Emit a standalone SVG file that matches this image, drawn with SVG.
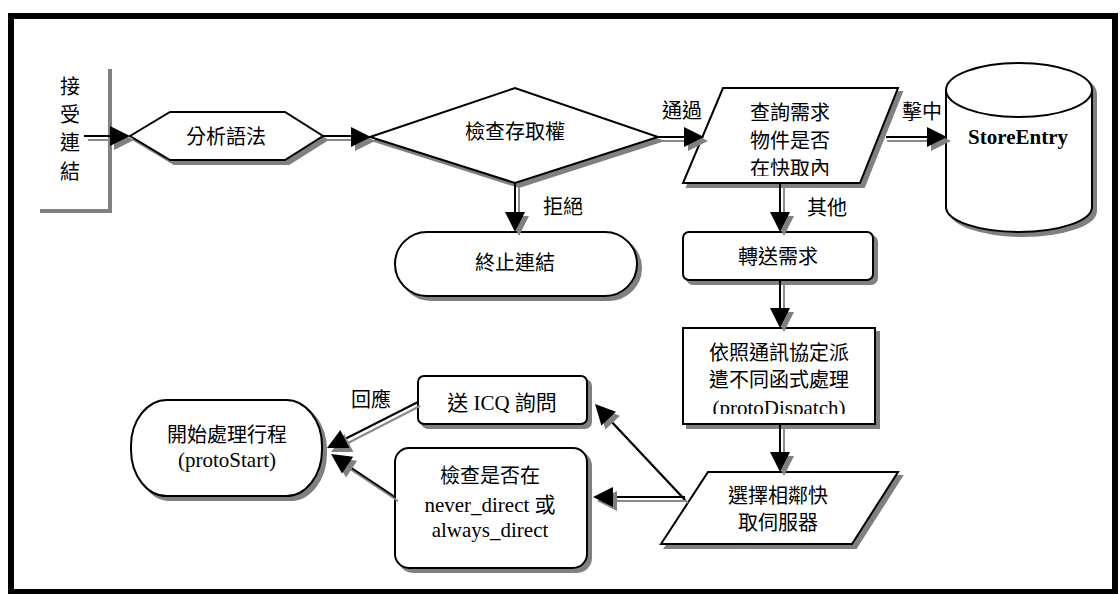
<svg xmlns="http://www.w3.org/2000/svg" xmlns:xlink="http://www.w3.org/1999/xlink" width="1120" height="594" viewBox="0 0 1120 594">
<style>
.shape{fill:#fff;stroke:#000;stroke-width:2}
.shadow{fill:#808080;stroke:#808080;stroke-width:2}
.cj{font-family:"Noto Sans CJK TC","Noto Sans CJK SC",sans-serif;font-size:20px;fill:#000;text-anchor:middle}
.sf{font-family:"Liberation Serif","Noto Sans CJK TC",serif;font-size:21px;fill:#000;text-anchor:middle}
.ln{fill:none;stroke:#000;stroke-width:2}
.lg{fill:none;stroke:#8a8a8a;stroke-width:2}
.ah{fill:#000}
.ahs{fill:#808080}
</style>
<defs>
<path id="ah" d="M0,0 L-20,-10 L-20,10 Z"/>
<clipPath id="clipP1"><rect x="680" y="85" width="230" height="91"/></clipPath>
<clipPath id="clipD"><rect x="680" y="325" width="200" height="89"/></clipPath>
</defs>
<rect x="0" y="0" width="1120" height="594" fill="#fff"/>
<rect x="11" y="16" width="1104" height="576" fill="none" stroke="#000" stroke-width="6"/>

<g id="accept">
<path d="M110,69 L110,211 L40,211" fill="none" stroke="#808080" stroke-width="4"/>
<text class="cj" x="70" y="94">接</text>
<text class="cj" x="70" y="122">受</text>
<text class="cj" x="70" y="150">連</text>
<text class="cj" x="70" y="179">結</text>
</g>

<g id="parse">
<polygon class="shadow" points="134,140 174,116 289,116 327,140 289,164 174,164"/>
<polygon class="shape" points="130,136 170,112 285,112 323,136 285,160 170,160"/>
<text class="cj" x="226" y="144">分析語法</text>
</g>

<g id="checkAccess">
<polygon class="shadow" points="374,141 519,92 662,141 519,187"/>
<polygon class="shape" points="370,137 515,88 658,137 515,183"/>
<text class="cj" x="515" y="139">檢查存取權</text>
</g>

<g id="terminate">
<rect class="shadow" x="399" y="236" width="242" height="64" rx="32" ry="32"/>
<rect class="shape" x="395" y="232" width="242" height="64" rx="32" ry="32"/>
<text class="cj" x="515" y="270">終止連結</text>
</g>

<g id="lookup">
<polygon class="shadow" points="727,92 902,92 864,187 687,187"/>
<polygon class="shape" points="723,88 898,88 860,183 683,183"/>
<g clip-path="url(#clipP1)">
<text class="cj" x="790" y="120">查詢需求</text>
<text class="cj" x="790" y="148">物件是否</text>
<text class="cj" x="790" y="176">在快取內</text>
</g>
</g>

<g id="storeEntry">
<path class="shadow" d="M950,94 A73,27 0 0 1 1096,94 L1096,211 A73,25 0 0 1 950,211 Z"/>
<path class="shape" d="M946,90 A73,27 0 0 1 1092,90 L1092,207 A73,25 0 0 1 946,207 Z"/>
<path class="shape" fill="none" d="M946,90 A73,27 0 0 0 1092,90"/>
<text class="sf" x="1018" y="144" font-weight="bold">StoreEntry</text>
</g>

<g id="forward">
<rect class="shadow" x="687" y="236" width="190" height="48" rx="6"/>
<rect class="shape" x="683" y="232" width="190" height="48" rx="6"/>
<text class="cj" x="778" y="264">轉送需求</text>
</g>

<g id="dispatch">
<rect class="shadow" x="687" y="332" width="192" height="96"/>
<rect class="shape" x="683" y="328" width="192" height="96"/>
<g clip-path="url(#clipD)">
<text class="cj" x="779" y="360">依照通訊協定派</text>
<text class="cj" x="779" y="387">遣不同函式處理</text>
<text class="sf" x="779" y="415">(protoDispatch)</text>
</g>
</g>

<g id="selectPeer">
<polygon class="shadow" points="712,476 902,476 856,548 665,548"/>
<polygon class="shape" points="708,472 898,472 852,544 661,544"/>
<text class="cj" x="778" y="503">選擇相鄰快</text>
<text class="cj" x="778" y="530">取伺服器</text>
</g>

<g id="icq">
<rect class="shadow" x="422" y="380" width="169" height="48" rx="6"/>
<rect class="shape" x="418" y="376" width="169" height="48" rx="6"/>
<text class="sf" x="502" y="410">送 ICQ 詢問</text>
</g>

<g id="checkDirect">
<rect class="shadow" x="399" y="452" width="192" height="120" rx="14"/>
<rect class="shape" x="395" y="448" width="192" height="120" rx="14"/>
<text class="cj" x="490" y="483">檢查是否在</text>
<text class="sf" x="490" y="512">never_direct 或</text>
<text class="sf" x="490" y="537">always_direct</text>
</g>

<g id="protoStart">
<rect class="shadow" x="135" y="404" width="191" height="96" rx="36" ry="46"/>
<rect class="shape" x="131" y="400" width="191" height="96" rx="36" ry="46"/>
<text class="cj" x="227" y="442">開始處理行程</text>
<text class="sf" x="227" y="467">(protoStart)</text>
</g>

<g id="connectors">
<!-- accept -> parse -->
<line class="lg" x1="88" y1="140" x2="112" y2="140"/>
<line class="ln" x1="84" y1="136" x2="112" y2="136"/>
<use xlink:href="#ah" class="ahs" transform="translate(134,140)"/>
<use xlink:href="#ah" class="ah" transform="translate(130,136)"/>
<!-- parse -> checkAccess -->
<line class="lg" x1="327" y1="140" x2="354" y2="140"/>
<line class="ln" x1="323" y1="136" x2="354" y2="136"/>
<use xlink:href="#ah" class="ahs" transform="translate(375,141)"/>
<use xlink:href="#ah" class="ah" transform="translate(371,137)"/>
<!-- checkAccess -> terminate -->
<line class="lg" x1="519" y1="187" x2="519" y2="214"/>
<line class="ln" x1="515" y1="183" x2="515" y2="214"/>
<use xlink:href="#ah" class="ahs" transform="translate(519,236) rotate(90)"/>
<use xlink:href="#ah" class="ah" transform="translate(515,232) rotate(90)"/>
<text class="cj" x="563" y="214">拒絕</text>
<!-- checkAccess -> lookup -->
<line class="lg" x1="662" y1="141" x2="686" y2="141"/>
<line class="ln" x1="658" y1="137" x2="686" y2="137"/>
<use xlink:href="#ah" class="ahs" transform="translate(708,141)"/>
<use xlink:href="#ah" class="ah" transform="translate(704,137)"/>
<text class="cj" x="682" y="118">通過</text>
<!-- lookup -> storeEntry -->
<line class="lg" x1="887" y1="141" x2="929" y2="141"/>
<line class="ln" x1="886" y1="137" x2="929" y2="137"/>
<use xlink:href="#ah" class="ahs" transform="translate(951,141)"/>
<use xlink:href="#ah" class="ah" transform="translate(947,137)"/>
<text class="cj" x="922" y="119">擊中</text>
<!-- lookup -> forward -->
<line class="lg" x1="784" y1="187" x2="784" y2="214"/>
<line class="ln" x1="780" y1="183" x2="780" y2="214"/>
<use xlink:href="#ah" class="ahs" transform="translate(784,236) rotate(90)"/>
<use xlink:href="#ah" class="ah" transform="translate(780,232) rotate(90)"/>
<text class="cj" x="827" y="215">其他</text>
<!-- forward -> dispatch -->
<line class="lg" x1="784" y1="284" x2="784" y2="310"/>
<line class="ln" x1="780" y1="280" x2="780" y2="310"/>
<use xlink:href="#ah" class="ahs" transform="translate(784,332) rotate(90)"/>
<use xlink:href="#ah" class="ah" transform="translate(780,328) rotate(90)"/>
<!-- dispatch -> selectPeer -->
<line class="lg" x1="784" y1="428" x2="784" y2="454"/>
<line class="ln" x1="780" y1="424" x2="780" y2="454"/>
<use xlink:href="#ah" class="ahs" transform="translate(784,476) rotate(90)"/>
<use xlink:href="#ah" class="ah" transform="translate(780,472) rotate(90)"/>
<!-- selectPeer -> icq -->
<line class="lg" x1="688" y1="503" x2="612" y2="422"/>
<line class="ln" x1="685" y1="500" x2="608" y2="418"/>
<use xlink:href="#ah" class="ahs" transform="translate(599,408) rotate(-133.2)"/>
<use xlink:href="#ah" class="ah" transform="translate(595,404) rotate(-133.2)"/>
<!-- selectPeer -> checkDirect -->
<line class="lg" x1="685" y1="501" x2="612" y2="501"/>
<line class="ln" x1="685" y1="497" x2="612" y2="497"/>
<use xlink:href="#ah" class="ahs" transform="translate(597,501) rotate(180)"/>
<use xlink:href="#ah" class="ah" transform="translate(593,497) rotate(180)"/>
<!-- icq -> protoStart -->
<line class="lg" x1="420" y1="406" x2="348" y2="443"/>
<line class="ln" x1="418" y1="402" x2="345" y2="439"/>
<use xlink:href="#ah" class="ahs" transform="translate(331,452) rotate(153.2)"/>
<use xlink:href="#ah" class="ah" transform="translate(327,448) rotate(153.2)"/>
<text class="cj" x="371" y="407">回應</text>
<!-- checkDirect -> protoStart -->
<line class="lg" x1="398" y1="501" x2="350" y2="469"/>
<line class="ln" x1="395" y1="497" x2="347" y2="465"/>
<use xlink:href="#ah" class="ahs" transform="translate(335,458) rotate(213.9)"/>
<use xlink:href="#ah" class="ah" transform="translate(331,454) rotate(213.9)"/>
</g>
</svg>
